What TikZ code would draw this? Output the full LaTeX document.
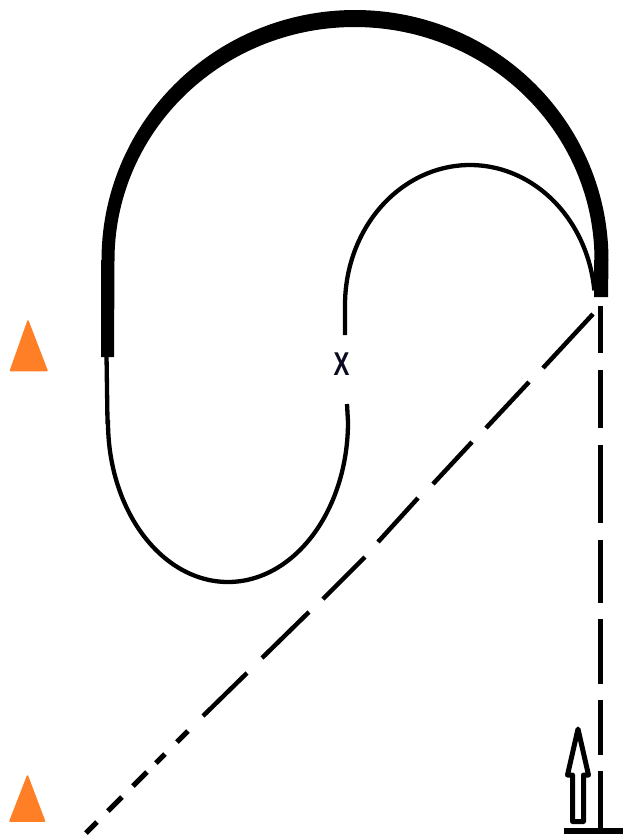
\documentclass[tikz,border=0pt]{standalone}
\usepackage{fontspec}
\setmainfont{Liberation Sans}
\definecolor{cone}{HTML}{FF7F27}
\definecolor{mark}{HTML}{0A0A20}
\tikzset{
  thinline/.style={line width=4.3pt,black},
  dashdiag/.style={line width=4.5pt,black},
  dashvert/.style={line width=5pt,black},
  conemark/.style={fill=cone,draw=cone,line width=1.5pt,line join=round},
  hollowarrow/.style={line width=5pt,black,line join=round}
}
\begin{document}
\begin{tikzpicture}[x=1pt,y=-1pt]
\useasboundingbox (0,0) rectangle (623,836);
% thick arc
\fill[black] (101,357) -- (101,260)
  -- plot[domain=180:360,samples=120,smooth] ({355+253.5*cos(\x)},{260+250*sin(\x)})
  -- (608,297) -- (594,297) -- (594,260)
  -- plot[domain=360:180,samples=120,smooth] ({354.5+240*cos(\x)},{260+233*sin(\x)})
  -- (114,357) -- cycle;
% thin S curve, upper
\draw[thinline] (345,335) -- (345,305)
  -- plot[domain=180:354,samples=100,smooth] ({470+125*cos(\x)},{305+140*sin(\x)});
% thin S curve, lower
\draw[thinline] (106.5,355) -- (107.5,422)
  -- plot[domain=180:0,samples=100,smooth] ({228+120*cos(\x)},{422+160*sin(\x)})
  -- (347,404);
% X
\node[font=\fontsize{33}{33}\selectfont\bfseries,text=mark,inner sep=0pt] (xmark) at (341.5,364) {\scalebox{0.72}[1]{X}};
% diagonal dashed line
\draw[dashdiag] (593,314) -- (543,368) (529,382) -- (486,428) (472,442) -- (433,484)
  (418,498) -- (378,542) (365,557) -- (323,599) (309,612) -- (262,658) (247,673) -- (203,716);
\draw[line width=5pt,black] (188,731) -- (177,742) (165,754) -- (156,763) (147,772) -- (133,786)
  (122,797) -- (108,811) (97,822) -- (86,833);
% vertical dashed line
\draw[dashvert] (600.5,306) -- (600.5,353) (600.5,370) -- (600.5,428) (600.5,445) -- (600.5,523)
  (600.5,540) -- (600.5,603) (600.5,619) -- (600.5,684) (600.5,700) -- (600.5,755) (600.5,771) -- (600.5,831);
% ground line
\draw[line width=6pt,black] (564,831) -- (623,831);
% hollow arrow
\draw[hollowarrow] (578,729) -- (567.5,775) -- (572.5,775) -- (572.5,821.5) -- (583.5,821.5) -- (583.5,775) -- (588.5,775) -- cycle;
% cones
\fill[conemark] (28,321) -- (47,370.5) -- (10.5,370.5) -- cycle;
\fill[conemark] (27.5,776) -- (44.5,821) -- (10,821) -- cycle;
\end{tikzpicture}
\end{document}
